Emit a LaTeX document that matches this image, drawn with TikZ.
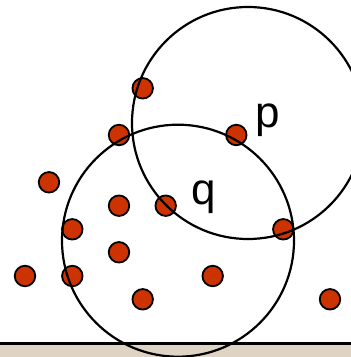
\documentclass[tikz,border=0pt]{standalone}
\usepackage{fontspec}
\setmainfont{Liberation Sans}
\usepackage{xcolor}
\usetikzlibrary{positioning}
\definecolor{DotRed}{HTML}{CC3300}
\definecolor{Sand}{HTML}{DFD4C3}

\begin{document}
\begin{tikzpicture}[x=1pt,y=-1pt,
  dot/.style={circle,draw=black,line width=1.8pt,fill=DotRed,minimum size=20.5pt,inner sep=0pt},
  ring/.style={draw=black,line width=2.2pt},
  lbl/.style={inner sep=0pt,anchor=base west,font=\fontsize{44}{44}\selectfont}]
\useasboundingbox (0,0) rectangle (351,357);
% ground
\fill[Sand] (0,343.5) rectangle (351,357);
\draw[line width=2.2pt] (0,343.5) -- (351,343.5);
% points
\node[dot] (d1)  at (142.7,88.3) {};
\node[dot] (d2)  at (119,135) {};
\node[dot] (p)   at (236.3,135) {};
\node[dot] (d4)  at (49,182.3) {};
\node[dot] (d5)  at (119,205.7) {};
\node[dot] (q)   at (165.7,205.7) {};
\node[dot] (d7)  at (72.3,229.3) {};
\node[dot] (d8)  at (283.3,229.3) {};
\node[dot] (d9)  at (119,252.3) {};
\node[dot] (d10) at (25,276) {};
\node[dot] (d11) at (72.3,276) {};
\node[dot] (d12) at (212.7,276) {};
\node[dot] (d13) at (142.7,299.3) {};
\node[dot] (d14) at (330,299.3) {};
% neighbourhoods
\draw[ring] (248,123) circle[radius=116];
\draw[ring] (178,240.7) circle[radius=116];
% labels
\node[lbl] (plbl) at (255,127) {p};
\node[lbl] (qlbl) at (191.5,204) {q};
\end{tikzpicture}
\end{document}
